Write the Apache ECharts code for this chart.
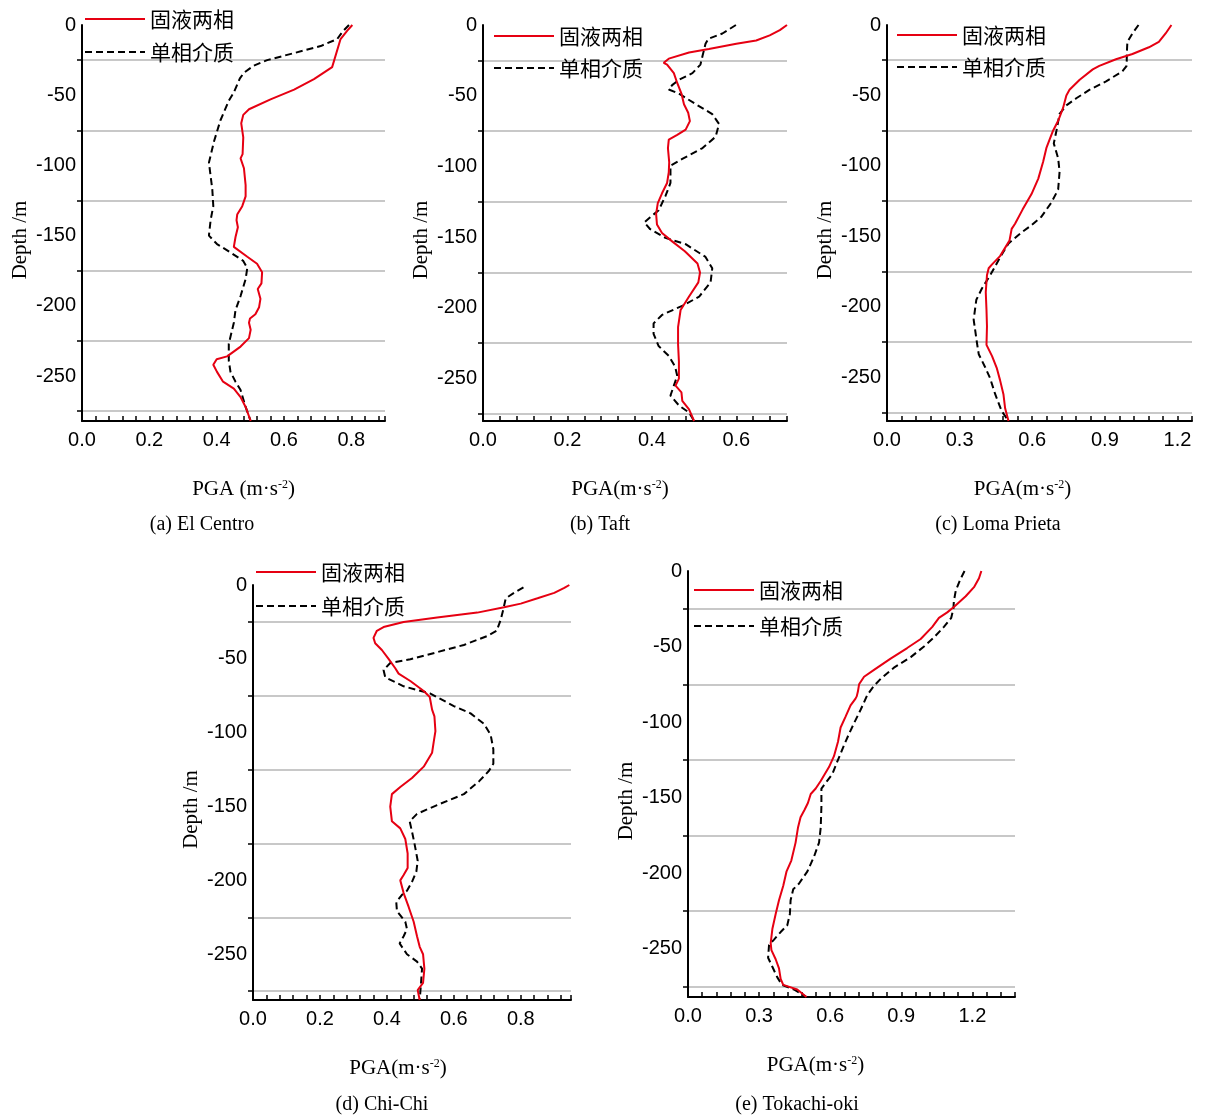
<!DOCTYPE html>
<html>
<head>
<meta charset="utf-8">
<script src="https://cdn.jsdelivr.net/npm/echarts@6/dist/echarts.min.js"></script>
<style>
html,body{margin:0;padding:0;background:#fff;}
#main{width:1207px;height:1120px;}
</style>
</head>
<body>
<div id="main"></div>
<script>
// depth ticks (gray lines) and labels, shared by all panels
var labelDepths = [0, -50, -100, -150, -200, -250];
var lineDepths = [-25, -75, -125, -175, -225, -275];
var seriesNames = ['固液两相', '单相介质'];

// (a) El Centro
var aRedDepth = [0,-4,-10,-30,-38.5,-46,-53,-60,-64,-70,-80,-92,-95,-102,-114,-122,-129,-135,-139,-144,-151,-158,-165,-170,-176,-184,-188,-195,-201,-206,-209,-212,-217,-223,-229,-236,-238,-242,-247,-254,-259,-265,-272,-282];
var aRedPga = [0.803,0.788,0.768,0.743,0.689,0.63,0.56,0.496,0.479,0.473,0.479,0.477,0.471,0.481,0.486,0.486,0.476,0.461,0.459,0.463,0.456,0.451,0.491,0.52,0.535,0.533,0.522,0.53,0.526,0.515,0.499,0.496,0.501,0.496,0.471,0.431,0.40,0.39,0.401,0.419,0.451,0.471,0.486,0.501];
var aBlackDepth = [0,-5,-10,-15,-20,-25,-29,-34,-38,-48,-54,-68,-83,-98,-117,-129,-139,-150,-156,-162,-168,-173,-181,-193,-203,-212,-222,-227,-239,-247,-254,-260,-272,-282];
var aBlackPga = [0.793,0.773,0.758,0.709,0.63,0.55,0.51,0.481,0.469,0.451,0.436,0.411,0.392,0.377,0.387,0.39,0.382,0.377,0.401,0.441,0.479,0.491,0.486,0.471,0.456,0.451,0.441,0.436,0.436,0.441,0.456,0.471,0.486,0.501];

// (b) Taft
var bRedDepth = [0,-3.6,-7.3,-11,-13.3,-17,-19.4,-23.8,-26.7,-28,-34,-41,-48.5,-56,-62,-68,-74,-77.7,-81,-87,-97,-104,-111.7,-119,-126,-133.5,-141,-147,-153,-160,-168.7,-175,-182,-192,-201.5,-213.6,-225.7,-238,-250,-255,-259.7,-265.8,-271.8,-280];
var bRedPga = [0.72,0.703,0.679,0.647,0.6,0.535,0.488,0.44,0.428,0.436,0.452,0.46,0.47,0.476,0.486,0.49,0.48,0.46,0.44,0.438,0.441,0.44,0.436,0.424,0.414,0.41,0.412,0.424,0.448,0.478,0.508,0.514,0.51,0.488,0.468,0.462,0.462,0.464,0.464,0.456,0.47,0.472,0.488,0.5];
var bBlackDepth = [0,-6,-9.7,-13.3,-21.8,-28,-34,-38.8,-42.5,-45.6,-48.5,-56,-63,-70,-79,-87,-94.7,-99.5,-111.7,-121,-131,-136,-139.6,-144.4,-150.5,-155,-164,-172,-182,-192,-198,-205,-211,-218.4,-227,-234,-241.5,-248,-255,-262,-269,-274,-280];
var bBlackPga = [0.599,0.567,0.534,0.527,0.52,0.515,0.496,0.464,0.448,0.44,0.464,0.504,0.543,0.559,0.551,0.52,0.472,0.444,0.444,0.432,0.416,0.396,0.382,0.396,0.432,0.48,0.527,0.543,0.539,0.512,0.476,0.424,0.404,0.404,0.416,0.44,0.455,0.46,0.452,0.444,0.464,0.488,0.5];

// (c) Loma Prieta
var cRedDepth = [0,-6,-12,-15.8,-20.6,-24.3,-29,-31.5,-38.8,-46,-50,-59,-68,-75,-82,-87,-97,-109,-120,-131,-141,-144.7,-153,-164,-170,-172.6,-177.6,-189.6,-202,-214,-227,-235,-243.7,-252,-262,-272,-281];
var cRedPga = [1.175,1.151,1.123,1.082,1.014,0.946,0.877,0.85,0.796,0.754,0.741,0.727,0.707,0.686,0.67,0.659,0.645,0.625,0.597,0.56,0.529,0.515,0.506,0.467,0.433,0.42,0.413,0.408,0.411,0.413,0.411,0.434,0.454,0.467,0.481,0.488,0.502];
var cBlackDepth = [0,-6,-12,-19,-29,-32.8,-40,-46,-52,-57,-63,-75,-84,-94.6,-104,-116.8,-126,-136,-142,-148,-155,-165,-177.6,-187,-195,-209,-226,-233.6,-243,-250.7,-262,-274,-281];
var cBlackPga = [1.039,1.014,0.993,0.991,0.99,0.973,0.905,0.836,0.782,0.741,0.713,0.70,0.689,0.707,0.713,0.707,0.679,0.638,0.597,0.55,0.502,0.467,0.426,0.392,0.369,0.358,0.372,0.379,0.406,0.426,0.447,0.474,0.502];

// (d) Chi-Chi
var dRedDepth = [0,-2,-5.3,-9,-12.6,-15,-18.7,-22,-25,-28.5,-31,-35.8,-39.4,-44,-50,-56.4,-60,-65,-71.8,-75.8,-84.4,-89,-99,-106,-113.6,-123,-130.7,-136.8,-141.6,-150,-160,-164.8,-172,-181.8,-191.6,-196.4,-200,-208.6,-218,-228,-237.8,-245,-250,-259.7,-269.4,-274.3,-281];
var dRedPga = [0.945,0.93,0.9,0.85,0.8,0.75,0.67,0.55,0.45,0.39,0.37,0.36,0.365,0.385,0.405,0.425,0.435,0.47,0.51,0.528,0.535,0.542,0.545,0.54,0.535,0.51,0.475,0.44,0.415,0.41,0.415,0.44,0.455,0.462,0.462,0.45,0.44,0.45,0.465,0.48,0.49,0.498,0.508,0.512,0.508,0.492,0.498];
var dBlackDepth = [-1.6,-5.3,-9,-16.3,-23.5,-31,-34.5,-40.6,-45.5,-50.3,-52.8,-57.6,-62.5,-68.6,-73.5,-82,-86.9,-94,-101.5,-111.2,-121,-125.8,-133,-141.6,-149,-155,-160,-167,-174.5,-186.7,-194,-201,-207,-209.8,-214.7,-220.8,-228,-233,-237.8,-242.7,-250,-255,-259.7,-269.4,-281];
var dBlackPga = [0.808,0.78,0.755,0.748,0.74,0.728,0.7,0.63,0.55,0.47,0.41,0.39,0.395,0.45,0.53,0.6,0.65,0.69,0.71,0.718,0.718,0.705,0.675,0.63,0.55,0.49,0.468,0.475,0.482,0.492,0.488,0.475,0.46,0.445,0.428,0.43,0.455,0.46,0.45,0.438,0.46,0.49,0.505,0.502,0.498];

// (e) Tokachi-oki
var eRedDepth = [0,-4.8,-10.7,-16.7,-23.8,-27.4,-31,-37,-45,-51,-58,-65.5,-70,-75,-79.8,-83,-84.5,-89,-96.4,-103.6,-113,-122.6,-129.8,-139,-144,-147.6,-153.6,-158,-163,-170,-179.8,-191.7,-198.8,-208.3,-218,-227,-237,-246.4,-251,-257,-263,-270,-274,-277,-282];
var eRedPga = [1.238,1.228,1.207,1.172,1.122,1.094,1.059,1.031,0.982,0.925,0.855,0.785,0.743,0.722,0.717,0.712,0.707,0.686,0.665,0.644,0.633,0.616,0.595,0.56,0.539,0.518,0.506,0.492,0.475,0.464,0.454,0.436,0.416,0.402,0.384,0.37,0.356,0.349,0.352,0.37,0.384,0.391,0.402,0.461,0.5];
var eBlackDepth = [0,-6,-13,-20,-25,-31,-37,-44,-50,-57,-64,-71.4,-76,-82,-91.7,-101,-108,-115.5,-125,-134.5,-141.7,-144,-156,-170,-179.8,-189,-198.8,-207,-210.7,-218,-227,-234.5,-239,-244,-247.6,-256,-262,-269,-274,-277,-282];
var eBlackPga = [1.167,1.148,1.13,1.122,1.12,1.111,1.08,1.038,0.996,0.94,0.869,0.813,0.785,0.757,0.729,0.70,0.679,0.658,0.633,0.609,0.574,0.563,0.563,0.56,0.553,0.532,0.504,0.468,0.444,0.433,0.43,0.419,0.391,0.363,0.342,0.338,0.356,0.377,0.397,0.447,0.5];

var panels = [
	{red:[aRedPga,aRedDepth], black:[aBlackPga,aBlackDepth], left:82, top:25, width:303, height:396, yMin:-282, xMax:0.9, xStep:0.04, xLabels:[0,0.2,0.4,0.6,0.8], pgaName:'PGA (m·s', pgaPad:[0,0,0,20], legend:[84,7,9], caption:'(a) El Centro', capX:202, capY:525},
	{red:[bRedPga,bRedDepth], black:[bBlackPga,bBlackDepth], left:483, top:25, width:304, height:396, yMin:-280, xMax:0.72, xStep:0.04, xLabels:[0,0.2,0.4,0.6], pgaName:'PGA(m·s', pgaPad:[0,30,0,0], legend:[493,24,8], caption:'(b) Taft', capX:600, capY:525},
	{red:[cRedPga,cRedDepth], black:[cBlackPga,cBlackDepth], left:887, top:25, width:305, height:396, yMin:-281, xMax:1.26, xStep:0.06, xLabels:[0,0.3,0.6,0.9,1.2], pgaName:'PGA(m·s', pgaPad:[0,34,0,0], legend:[896,23,8], caption:'(c) Loma Prieta', capX:998, capY:525},
	{red:[dRedPga,dRedDepth], black:[dBlackPga,dBlackDepth], left:253, top:585, width:318, height:415, yMin:-281, xMax:0.95, xStep:0.04, xLabels:[0,0.2,0.4,0.6,0.8], pgaName:'PGA(m·s', pgaPad:[0,28,0,0], legend:[255,560,10], caption:'(d) Chi-Chi', capX:382, capY:1105},
	{red:[eRedPga,eRedDepth], black:[eBlackPga,eBlackDepth], left:688, top:571, width:327, height:426, yMin:-282, xMax:1.38, xStep:0.06, xLabels:[0,0.3,0.6,0.9,1.2], pgaName:'PGA(m·s', pgaPad:[0,72,0,0], legend:[693,578,12], caption:'(e) Tokachi-oki', capX:797, capY:1105}
];

function pairs(xs, ys){
	var out = [];
	for (var i = 0; i < xs.length; i++) out.push([xs[i], ys[i]]);
	return out;
}

var grid = [], xAxis = [], yAxis = [], series = [], legend = [], graphic = [];
var numFont = 'Liberation Sans';
var serifFont = 'Liberation Serif';

panels.forEach(function(p, i){
	grid.push({left:p.left, top:p.top, width:p.width, height:p.height, outerBoundsMode:'none'});
	xAxis.push({
		gridIndex:i, type:'value', min:0, max:p.xMax, interval:p.xStep,
		axisLine:{onZero:false, lineStyle:{color:'#000', width:2}},
		axisTick:{inside:true, length:5, lineStyle:{color:'#000', width:1.5}},
		axisLabel:{customValues:p.xLabels, formatter:function(v){return v.toFixed(1);}, color:'#000', fontSize:20, fontFamily:numFont, margin:9},
		splitLine:{show:false},
		name:p.pgaName + '{sup|-2})', nameLocation:'middle', nameGap:58,
		nameTextStyle:{color:'#000', fontSize:21, fontFamily:serifFont, padding:p.pgaPad,
			rich:{sup:{fontSize:12, fontFamily:serifFont, color:'#000', verticalAlign:'top', padding:[0,0,8,0]}}}
	});
	yAxis.push({
		gridIndex:i, type:'value', min:p.yMin, max:0,
		axisLine:{show:true, onZero:false, lineStyle:{color:'#000', width:2}},
		axisTick:{show:true, customValues:lineDepths, length:5, lineStyle:{color:'#000', width:1.5}},
		axisLabel:{customValues:labelDepths, color:'#000', fontSize:20, fontFamily:numFont, margin:6},
		splitLine:{show:true, lineStyle:{color:'#c8c8c8', width:2}},
		name:'Depth /m', nameLocation:'middle', nameGap:51,
		nameTextStyle:{color:'#000', fontSize:21, fontFamily:serifFont, padding:[0,34,0,0]}
	});
	series.push({
		name:seriesNames[0], type:'line', xAxisIndex:i, yAxisIndex:i, symbol:'none', smooth:false,
		lineStyle:{color:'#e60012', width:2}, itemStyle:{color:'#e60012'}, z:3,
		data:pairs(p.red[0], p.red[1])
	});
	series.push({
		name:seriesNames[1], type:'line', xAxisIndex:i, yAxisIndex:i, symbol:'none', smooth:false,
		lineStyle:{color:'#000', width:2, type:[7,4]}, itemStyle:{color:'#000'}, z:2,
		data:pairs(p.black[0], p.black[1])
	});
	legend.push({
		left:p.legend[0], top:p.legend[1], padding:0, orient:'vertical', itemWidth:60, itemHeight:14, itemGap:p.legend[2],
		data:seriesNames, selectedMode:false,
		itemStyle:{opacity:0},
		textStyle:{color:'#000', fontSize:21, fontFamily:'Noto Sans CJK SC', lineHeight:24}
	});
	graphic.push({
		type:'text', x:p.capX, y:p.capY,
		style:{text:p.caption, fill:'#000', fontSize:20, fontFamily:serifFont, align:'center', verticalAlign:'middle'}
	});
});

var myChart = echarts.init(document.getElementById('main'));
myChart.setOption({
	animation:false,
	backgroundColor:'#fff',
	grid:grid,
	xAxis:xAxis,
	yAxis:yAxis,
	legend:legend,
	graphic:graphic,
	series:series
});
window.onresize = myChart.resize;
</script>
</body>
</html>
